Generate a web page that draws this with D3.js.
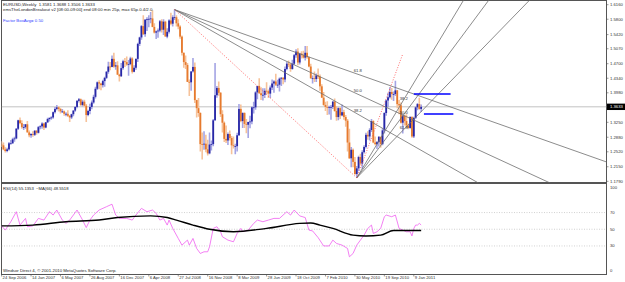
<!DOCTYPE html>
<html>
<head>
<meta charset="utf-8">
<script src="https://cdn.jsdelivr.net/npm/d3@7"></script>
<style>
  body { margin: 0; background: #fff; }
  svg { display: block; }
  text { font-family: "Liberation Sans", Arial, sans-serif; }
</style>
</head>
<body>
<script>
const W = 625, H = 282;

// weekly EURUSD bars, bar 0 = week of 24 Sep 2006
const opens = [1.270,1.268,1.258,1.254,1.258,1.273,1.273,1.283,1.285,1.309,1.330,1.323,1.313,1.313,1.320,1.300,1.293,1.296,1.294,1.304,
  1.299,1.313,1.315,1.322,1.312,1.325,1.333,1.336,1.337,1.350,1.358,1.362,1.358,1.352,1.352,1.346,1.346,1.341,1.337,1.345,
  1.354,1.363,1.378,1.382,1.368,1.376,1.366,1.343,1.353,1.363,1.374,1.388,1.408,1.424,1.421,1.417,1.427,1.435,1.450,1.463,
  1.462,1.482,1.463,1.466,1.443,1.439,1.459,1.476,1.474,1.468,1.469,1.483,1.450,1.460,1.482,1.519,1.535,1.563,1.543,1.579,
  1.580,1.581,1.582,1.561,1.547,1.550,1.552,1.575,1.554,1.574,1.537,1.549,1.577,1.569,1.585,1.585,1.570,1.562,1.537,1.497,
  1.474,1.467,1.425,1.424,1.451,1.462,1.380,1.360,1.348,1.271,1.270,1.272,1.258,1.248,1.270,1.271,1.330,1.392,1.410,1.398,
  1.345,1.324,1.284,1.280,1.296,1.286,1.268,1.266,1.266,1.293,1.358,1.328,1.348,1.321,1.319,1.326,1.327,1.362,1.362,1.399,
  1.415,1.397,1.392,1.393,1.403,1.402,1.396,1.411,1.421,1.426,1.418,1.418,1.433,1.435,1.431,1.457,1.470,1.468,1.457,1.470,
  1.491,1.500,1.473,1.495,1.491,1.485,1.497,1.486,1.463,1.434,1.434,1.432,1.441,1.438,1.414,1.386,1.368,1.363,1.361,1.363,
  1.363,1.376,1.353,1.338,1.360,1.342,1.350,1.338,1.329,1.275,1.236,1.257,1.227,1.197,1.211,1.239,1.223,1.251,1.264,1.294,
  1.290,1.306,1.328,1.275,1.271,1.276,1.289,1.271,1.305,1.348,1.379,1.387,1.400,1.395,1.395,1.404,1.370,1.367,1.324,1.341,
  1.328,1.317,1.311,1.338,1.290,1.336,1.362,1.370,1.3581];
const highs = [1.278,1.275,1.263,1.262,1.276,1.281,1.287,1.289,1.311,1.331,1.337,1.330,1.321,1.321,1.328,1.305,1.298,1.303,1.306,1.306,
  1.316,1.318,1.325,1.324,1.326,1.336,1.337,1.340,1.352,1.363,1.368,1.365,1.361,1.358,1.354,1.350,1.355,1.343,1.346,1.355,
  1.365,1.380,1.385,1.384,1.381,1.381,1.370,1.356,1.371,1.379,1.393,1.413,1.426,1.429,1.423,1.430,1.438,1.452,1.475,1.474,
  1.490,1.497,1.474,1.476,1.445,1.472,1.480,1.484,1.488,1.479,1.487,1.486,1.466,1.483,1.522,1.537,1.566,1.590,1.580,1.585,
  1.590,1.598,1.602,1.570,1.552,1.557,1.578,1.580,1.580,1.576,1.558,1.580,1.596,1.590,1.604,1.590,1.580,1.565,1.540,1.498,
  1.490,1.472,1.431,1.451,1.484,1.473,1.381,1.385,1.350,1.300,1.303,1.294,1.282,1.300,1.280,1.333,1.472,1.415,1.426,1.400,
  1.355,1.327,1.317,1.300,1.305,1.291,1.290,1.272,1.299,1.370,1.369,1.350,1.350,1.333,1.326,1.341,1.364,1.376,1.402,1.415,
  1.434,1.412,1.409,1.409,1.424,1.406,1.416,1.431,1.429,1.445,1.430,1.436,1.437,1.437,1.463,1.475,1.478,1.472,1.480,1.494,
  1.506,1.508,1.497,1.501,1.502,1.514,1.514,1.488,1.470,1.441,1.451,1.446,1.458,1.443,1.419,1.400,1.376,1.377,1.366,1.368,
  1.378,1.384,1.365,1.362,1.362,1.369,1.356,1.343,1.333,1.309,1.264,1.260,1.239,1.217,1.242,1.247,1.256,1.268,1.299,1.303,
  1.310,1.333,1.330,1.290,1.279,1.291,1.290,1.310,1.350,1.381,1.398,1.412,1.410,1.401,1.428,1.405,1.380,1.374,1.345,1.343,
  1.345,1.322,1.340,1.340,1.339,1.364,1.373,1.386,1.3688];
const lows = [1.264,1.256,1.250,1.251,1.255,1.270,1.272,1.277,1.283,1.306,1.320,1.309,1.306,1.309,1.300,1.288,1.287,1.289,1.291,1.294,
  1.297,1.308,1.309,1.306,1.310,1.323,1.327,1.331,1.334,1.347,1.355,1.352,1.347,1.348,1.341,1.340,1.338,1.326,1.333,1.340,
  1.351,1.360,1.374,1.365,1.364,1.362,1.326,1.340,1.345,1.357,1.371,1.384,1.405,1.407,1.404,1.411,1.413,1.432,1.445,1.454,
  1.461,1.460,1.455,1.442,1.426,1.437,1.455,1.462,1.465,1.440,1.466,1.446,1.449,1.455,1.474,1.514,1.529,1.541,1.537,1.551,
  1.560,1.570,1.560,1.545,1.531,1.534,1.548,1.547,1.541,1.538,1.533,1.545,1.565,1.562,1.578,1.562,1.555,1.532,1.490,1.460,
  1.457,1.425,1.390,1.403,1.448,1.373,1.337,1.339,1.253,1.233,1.257,1.251,1.243,1.246,1.255,1.266,1.329,1.386,1.391,1.338,
  1.300,1.276,1.274,1.269,1.280,1.246,1.260,1.246,1.253,1.291,1.325,1.311,1.311,1.298,1.286,1.310,1.320,1.347,1.356,1.382,
  1.395,1.380,1.379,1.385,1.395,1.385,1.385,1.405,1.398,1.415,1.410,1.401,1.415,1.419,1.424,1.454,1.462,1.450,1.455,1.467,
  1.485,1.466,1.468,1.483,1.483,1.478,1.482,1.461,1.433,1.421,1.425,1.425,1.432,1.403,1.385,1.366,1.353,1.343,1.344,1.331,
  1.358,1.351,1.329,1.330,1.333,1.340,1.331,1.314,1.253,1.234,1.214,1.214,1.195,1.188,1.204,1.219,1.210,1.248,1.260,1.282,
  1.280,1.301,1.273,1.268,1.259,1.265,1.262,1.268,1.297,1.341,1.362,1.384,1.381,1.378,1.390,1.360,1.345,1.322,1.297,1.317,
  1.312,1.308,1.309,1.287,1.286,1.333,1.355,1.356,1.3506];
const closes = [1.268,1.258,1.254,1.258,1.273,1.273,1.283,1.285,1.309,1.330,1.323,1.313,1.313,1.320,1.300,1.293,1.296,1.294,1.304,1.299,
  1.313,1.315,1.322,1.312,1.325,1.333,1.336,1.337,1.350,1.358,1.362,1.358,1.352,1.352,1.346,1.346,1.341,1.337,1.345,1.354,
  1.363,1.378,1.382,1.368,1.376,1.366,1.343,1.353,1.363,1.374,1.388,1.408,1.424,1.421,1.417,1.427,1.435,1.450,1.463,1.462,
  1.482,1.463,1.466,1.443,1.439,1.459,1.476,1.474,1.468,1.469,1.483,1.450,1.460,1.482,1.519,1.535,1.563,1.543,1.579,1.580,
  1.581,1.582,1.561,1.547,1.550,1.552,1.575,1.554,1.574,1.537,1.549,1.577,1.569,1.585,1.585,1.570,1.562,1.537,1.497,1.474,
  1.467,1.425,1.424,1.451,1.462,1.380,1.360,1.348,1.271,1.270,1.272,1.258,1.248,1.270,1.271,1.330,1.392,1.410,1.398,1.345,
  1.324,1.284,1.280,1.296,1.286,1.268,1.266,1.266,1.293,1.358,1.328,1.348,1.321,1.319,1.326,1.327,1.362,1.362,1.399,1.415,
  1.397,1.392,1.393,1.403,1.402,1.396,1.411,1.421,1.426,1.418,1.418,1.433,1.435,1.431,1.457,1.470,1.468,1.457,1.470,1.491,
  1.500,1.473,1.495,1.491,1.485,1.497,1.486,1.463,1.434,1.434,1.432,1.441,1.438,1.414,1.386,1.368,1.363,1.361,1.363,1.363,
  1.376,1.353,1.338,1.360,1.342,1.350,1.338,1.329,1.275,1.236,1.257,1.227,1.197,1.211,1.239,1.223,1.251,1.264,1.294,1.290,
  1.306,1.328,1.275,1.271,1.276,1.289,1.271,1.305,1.348,1.379,1.387,1.400,1.395,1.395,1.404,1.370,1.367,1.324,1.341,1.328,
  1.317,1.311,1.338,1.290,1.336,1.362,1.370,1.358,1.3633];

const dateLabels = ["24 Sep 2006","14 Jan 2007","6 May 2007","26 Aug 2007","16 Dec 2007","6 Apr 2008","27 Jul 2008",
  "16 Nov 2008","8 Mar 2009","28 Jun 2009","18 Oct 2009","7 Feb 2010","30 May 2010","19 Sep 2010","9 Jan 2011"];
const dateBars = [0,16,32,48,64,80,96,112,128,144,160,176,192,208,224];
const priceLabels = ["1.6160","1.5800","1.5420","1.5070","1.4700","1.4340","1.3980","1.3250","1.2880","1.2520","1.2150","1.1790"];
const lastPrice = 1.3633;

// RSI(14) (bar index, value)
const rsiBars = [0,2,5,8,10,13,14,17,20,23,26,28,30,33,35,37,41,44,46,48,50,53,57,60,62,64,68,71,73,76,79,82,84,86,88,90,91,93,
  96,98,101,102,104,106,108,110,112,113,115,117,119,120,123,126,128,130,131,134,137,139,142,145,148,151,155,157,159,162,165,
  167,169,172,175,178,180,182,185,188,189,191,193,195,197,199,201,202,204,206,208,209,212,214,216,218,220,222,223,224,225,226,227,228];
const rsiVals = [54,49,59,71,55,63,53,54,63,61,71,67,73,61,57,61,73,61,52,61,67,73,77,80,67,63,63,61,67,75,71,73,69,61,63,55,61,51,
  39,31,37,31,39,27,21,23,23,29,51,53,47,41,37,35,45,51,47,49,57,61,59,61,63,63,71,67,73,66,64,
  49,48,40,30,30,37,33,31,27,17,21,31,37,43,51,55,45,47,51,65,67,65,67,51,49,47,47,42,51,55,55,57,55.1353];
// MA(66) of RSI
const maBars = [0,17,35,53,63,81,90,95,104,113,126,144,162,168,173,180,191,198,206,213,222,228];
const maVals = [54,55,59,61,64,66,64,61,55,50,47,51,57,57.5,55,51,43,42,43,48.5,48.5,48.5518];
const rsiLevels = [70, 50, 30];
const rsiLabels = [100, 70, 50, 30, 0];

// Fibonacci fans: [bar, price] anchors
const fanPeakToLow = [[94, 1.6038], [193, 1.1876]];
const fanLowToHigh = [[193, 1.1876], [218, 1.494]];
const fanLevels = [61.8, 50.0, 38.2];

// breakout box levels
const boxPrices = [1.3950, 1.3456];
const boxFrom = [224, 229.5];
const boxTo = [244, 245.5];

const padL = 1.5, padR = 606.5, padT = 0.5, mainBottom = 182.5, rsiTop = 184, rsiBottom = 274.5;

const svg = d3.select("body").append("svg").attr("width", W).attr("height", H);

const x = d3.scaleLinear().domain([0, 224]).range([1.6, 413.8]);
const y = d3.scaleLinear().domain([1.179, 1.616]).range([181.3, 4.7]);
const yr = d3.scaleLinear().domain([0, 100]).range([271, 187.5]);

const defs = svg.append("defs");
defs.append("clipPath").attr("id", "clipMain").append("rect")
  .attr("x", padL).attr("y", padT).attr("width", padR - padL).attr("height", mainBottom - padT);
defs.append("clipPath").attr("id", "clipRsi").append("rect")
  .attr("x", padL).attr("y", rsiTop).attr("width", padR - padL).attr("height", rsiBottom - rsiTop);

// frames
svg.append("rect").attr("x", padL).attr("y", padT).attr("width", padR - padL).attr("height", rsiBottom - padT)
  .attr("fill", "none").attr("stroke", "#555").attr("stroke-width", 1);
svg.append("line").attr("x1", padL).attr("x2", padR).attr("y1", 183).attr("y2", 183)
  .attr("stroke", "#555").attr("stroke-width", 2);

const main = svg.append("g").attr("clip-path", "url(#clipMain)");

// current price line
main.append("line").attr("x1", padL).attr("x2", padR).attr("y1", y(lastPrice)).attr("y2", y(lastPrice))
  .attr("stroke", "#a8a8a8").attr("stroke-width", 0.7);

const bars = d3.range(closes.length).map(i => ({ i, o: opens[i], h: highs[i], l: lows[i], c: closes[i] }));

main.selectAll("line.wick").data(bars).join("line").attr("class", "wick")
  .attr("x1", d => x(d.i)).attr("x2", d => x(d.i))
  .attr("y1", d => y(d.h)).attr("y2", d => y(d.l))
  .attr("stroke", d => d.c >= d.o ? "#a4a4e4" : "#f6c29a").attr("stroke-width", 1.6);

main.selectAll("rect.body").data(bars).join("rect").attr("class", "body")
  .attr("x", d => x(d.i) - 0.9).attr("width", 1.8)
  .attr("y", d => y(Math.max(d.o, d.c)))
  .attr("height", d => Math.max(0.8, Math.abs(y(d.o) - y(d.c))))
  .attr("fill", d => d.c >= d.o ? "#2828a6" : "#e67a2e");

// fibo fans
function drawFan(anchors) {
  const [a, b] = anchors;
  const xEnd = x.invert(padR + 2);
  fanLevels.forEach(lv => {
    const p = b[1] - lv / 100 * (b[1] - a[1]);
    const m = (p - a[1]) / (b[0] - a[0]);
    main.append("line")
      .attr("x1", x(a[0])).attr("y1", y(a[1]))
      .attr("x2", x(xEnd)).attr("y2", y(a[1] + m * (xEnd - a[0])))
      .attr("stroke", "#6e6e6e").attr("stroke-width", 0.8);
    main.append("text").text(lv.toFixed(1))
      .attr("x", x(b[0]) - 3).attr("y", y(p) - 1.6)
      .attr("font-size", 4.2).attr("fill", "#333");
  });
  main.append("line")
    .attr("x1", x(a[0])).attr("y1", y(a[1])).attr("x2", x(b[0])).attr("y2", y(b[1]))
    .attr("stroke", "#ff4a4a").attr("stroke-width", 0.8).attr("stroke-dasharray", "1,1.6");
}
drawFan(fanPeakToLow);
drawFan(fanLowToHigh);

// breakout box lines
boxPrices.forEach((p, k) => {
  main.append("line").attr("x1", x(boxFrom[k])).attr("x2", x(boxTo[k]))
    .attr("y1", y(p)).attr("y2", y(p)).attr("stroke", "#0000ff").attr("stroke-width", 1.6);
});

// price axis
priceLabels.forEach(t => {
  const yy = y(+t);
  svg.append("line").attr("x1", padR).attr("x2", padR + 2).attr("y1", yy).attr("y2", yy).attr("stroke", "#555").attr("stroke-width", 0.6);
  svg.append("text").text(t).attr("x", 610).attr("y", yy).attr("dy", "0.35em")
    .attr("font-size", 4.2).attr("fill", "#333");
});
svg.append("rect").attr("x", padR + 0.5).attr("y", y(lastPrice) - 3.2).attr("width", W - padR).attr("height", 6.4).attr("fill", "#000");
svg.append("text").text(lastPrice.toFixed(4)).attr("x", 610).attr("y", y(lastPrice)).attr("dy", "0.35em")
  .attr("font-size", 4.2).attr("fill", "#fff");

// header texts
svg.append("text").text("EURUSD,Weekly  1.3581 1.3688 1.3506 1.3633").attr("x", 3).attr("y", 6.3)
  .attr("font-size", 4.3).attr("fill", "#222").attr("xml:space", "preserve");
svg.append("text").text("emsTheLondonBreakout v2 [08:00-09:00] end 08:00 min 25p, max 65p.0.4/2.0").attr("x", 3).attr("y", 11.3)
  .attr("font-size", 4.3).attr("fill", "#222");
svg.append("text").text("Factor BoxAvg= 0.50").attr("x", 3).attr("y", 21.5)
  .attr("font-size", 4.3).attr("fill", "#3344ff");

// RSI pane
const rsiG = svg.append("g").attr("clip-path", "url(#clipRsi)");
rsiLevels.forEach(v => {
  rsiG.append("line").attr("x1", padL).attr("x2", padR).attr("y1", yr(v)).attr("y2", yr(v))
    .attr("stroke", "#b4b4b4").attr("stroke-width", 0.6).attr("stroke-dasharray", "1,1.5");
});
const rsiLine = d3.line().x(d => x(d[0])).y(d => yr(d[1]));
rsiG.append("path").datum(rsiBars.map((b, k) => [b, rsiVals[k]]))
  .attr("d", rsiLine).attr("fill", "none").attr("stroke", "#f060f0").attr("stroke-width", 0.8);
const maLine = d3.line().x(d => x(d[0])).y(d => yr(d[1])).curve(d3.curveMonotoneX);
rsiG.append("path").datum(maBars.map((b, k) => [b, maVals[k]]))
  .attr("d", maLine).attr("fill", "none").attr("stroke", "#000").attr("stroke-width", 1.4);

svg.append("text").text("RSI(14) 55.1353  ~MA(66) 48.5518").attr("x", 3).attr("y", 189.8)
  .attr("font-size", 4.2).attr("fill", "#222").attr("xml:space", "preserve");
svg.append("text").text("Windsor Direct 4, \u00a9 2001-2010 MetaQuotes Software Corp.").attr("x", 3).attr("y", 271.5)
  .attr("font-size", 4.3).attr("fill", "#222");

rsiLabels.forEach(v => {
  svg.append("text").text(v).attr("x", 610).attr("y", yr(v)).attr("dy", "0.35em")
    .attr("font-size", 4.2).attr("fill", "#333");
});

// date axis
dateBars.forEach((b, k) => {
  svg.append("line").attr("x1", x(b)).attr("x2", x(b)).attr("y1", rsiBottom).attr("y2", rsiBottom + 2)
    .attr("stroke", "#555").attr("stroke-width", 0.6);
  svg.append("text").text(dateLabels[k]).attr("x", x(b) + 1).attr("y", 279)
    .attr("font-size", 4.2).attr("fill", "#333");
});
</script>
</body>
</html>
